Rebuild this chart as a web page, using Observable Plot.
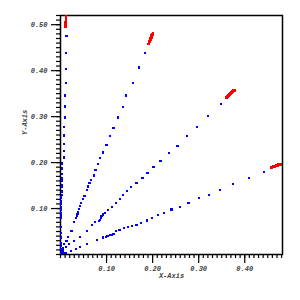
<!DOCTYPE html>
<html><head><meta charset="utf-8">
<script src="https://cdn.jsdelivr.net/npm/d3@7"></script>
<script src="https://cdn.jsdelivr.net/npm/@observablehq/plot@0.6"></script>
<style>body{margin:0;background:#fff}</style>
</head><body><div id="chart"></div>
<script>
// Blue sample points along each ray
const vertX = [0.013,0.011,0.011,0.011,0.009,0.009,0.009,0.007,0.007,0.007,0.007,0.007,0.004,0.004,0.004,0.004,0.004,0.004,0.004,0.004,0.004,0.002,0.002,0.002,0.002,0.002,0.002,0.002,0.002,0.002,0.002,0.002,0.002,0.002,0.002,0.002,0.002,0.002];
const vertY = [0.476,0.439,0.404,0.374,0.346,0.322,0.298,0.278,0.259,0.241,0.226,0.211,0.198,0.187,0.176,0.167,0.161,0.152,0.146,0.137,0.130,0.124,0.117,0.113,0.109,0.104,0.100,0.096,0.091,0.087,0.083,0.080,0.059,0.046,0.037,0.024,0.018,0.012];
const steepX = [0.183,0.170,0.157,0.143,0.135,0.124,0.115,0.107,0.100,0.093,0.085,0.082,0.076,0.072,0.067,0.063,0.060,0.057,0.052,0.048,0.045,0.043,0.041,0.038,0.037,0.035,0.033,0.030,0.024,0.017,0.013,0.008,0.005];
const steepY = [0.439,0.407,0.374,0.346,0.320,0.298,0.276,0.257,0.239,0.222,0.210,0.196,0.183,0.172,0.163,0.155,0.148,0.140,0.127,0.120,0.112,0.105,0.099,0.093,0.088,0.083,0.079,0.070,0.052,0.039,0.030,0.022,0.015];
const midX = [0.348,0.320,0.296,0.274,0.254,0.235,0.217,0.202,0.189,0.178,0.165,0.154,0.145,0.136,0.129,0.121,0.112,0.103,0.096,0.092,0.089,0.087,0.085,0.083,0.075,0.068,0.057,0.042,0.030,0.019,0.012,0.006];
const midY = [0.328,0.302,0.278,0.257,0.237,0.220,0.204,0.191,0.178,0.167,0.155,0.146,0.138,0.129,0.120,0.112,0.104,0.097,0.091,0.087,0.083,0.079,0.076,0.073,0.070,0.065,0.051,0.039,0.030,0.022,0.016,0.009];
const lowX = [0.441,0.409,0.375,0.347,0.322,0.300,0.278,0.259,0.241,0.225,0.211,0.198,0.188,0.174,0.165,0.156,0.147,0.138,0.128,0.121,0.115,0.111,0.107,0.102,0.098,0.093,0.080,0.057,0.043,0.033,0.022,0.011];
const lowY = [0.180,0.167,0.154,0.141,0.130,0.122,0.113,0.104,0.098,0.091,0.085,0.080,0.074,0.068,0.065,0.062,0.059,0.057,0.054,0.051,0.045,0.043,0.042,0.041,0.039,0.037,0.032,0.022,0.016,0.012,0.007,0.004];
const originX = [0.001,0.003,0.005,0.002,0.007,0.004,0.009,0.001,0.006];
const originY = [0.002,0.001,0.003,0.006,0.002,0.009,0.004,0.012,0.006];
// Red end segments
const redX = [0.011,0.011,0.011,0.011,0.012,0.012,0.012,0.012,0.012,
              0.191,0.192,0.193,0.195,0.196,0.197,0.198,0.200,0.201,
              0.361,0.363,0.365,0.367,0.370,0.372,0.374,0.376,0.378,
              0.459,0.462,0.465,0.468,0.471,0.474,0.477,0.480];
const redY = [0.496,0.499,0.502,0.505,0.508,0.511,0.514,0.517,0.520,
              0.458,0.461,0.464,0.467,0.470,0.473,0.476,0.479,0.482,
              0.342,0.344,0.346,0.348,0.350,0.352,0.354,0.356,0.357,
              0.190,0.191,0.192,0.193,0.194,0.195,0.196,0.197];
const xMajor = [0.1,0.2,0.3,0.4];
const yMajor = [0.1,0.2,0.3,0.4,0.5];
const xMinor = d3.range(0, 49).map(i => i/100);
const yMinor = d3.range(0, 53).map(i => i/100);
const xTitle = "X-Axis", yTitle = "Y-Axis";

const zip = (xs, ys) => xs.map((x, i) => ({x, y: ys[i]}));
const blue = [zip(vertX,vertY), zip(steepX,steepY), zip(midX,midY), zip(lowX,lowY), zip(originX,originY)].flat();
const red = zip(redX, redY);

const tickFont = {fontSize: 7, fontStyle: "italic", fontWeight: "bold", fontFamily: "Liberation Mono", fill: "#444"};

const chart = Plot.plot({
  width: 300, height: 300,
  marginLeft: 60, marginTop: 15, marginRight: 18, marginBottom: 46,
  x: {domain: [0, 0.482]},
  y: {domain: [0, 0.52]},
  style: {background: "#fff"},
  marks: [
    Plot.axisX({ticks: xMinor, tickSize: 4, tickFormat: () => "", strokeWidth: 1.2, label: null}),
    Plot.axisX({ticks: xMajor, tickSize: 9, tickPadding: 3, tickFormat: d3.format(".2f"), strokeWidth: 1.2, label: null, ...tickFont}),
    Plot.axisY({ticks: yMinor, tickSize: 4, tickFormat: () => "", strokeWidth: 1.2, label: null}),
    Plot.axisY({ticks: yMajor, tickSize: 9, tickPadding: 4, tickFormat: d3.format(".2f"), strokeWidth: 1.2, label: null, ...tickFont}),
    Plot.frame({stroke: "black", strokeWidth: 1.5}),
    Plot.text([xTitle], {frameAnchor: "bottom", dy: 23, ...tickFont}),
    Plot.text([yTitle], {frameAnchor: "left", dx: -36, rotate: -90, ...tickFont}),
    Plot.dot(blue, {x: "x", y: "y", symbol: "square", r: 1.2, fill: "#0000ff", stroke: null, clip: true, shapeRendering: "crispEdges"}),
    Plot.dot(red, {x: "x", y: "y", symbol: "square", r: 1.6, fill: "#ff0000", stroke: null, clip: true, shapeRendering: "crispEdges"})
  ]
});
document.getElementById("chart").appendChild(chart);
</script></body></html>
